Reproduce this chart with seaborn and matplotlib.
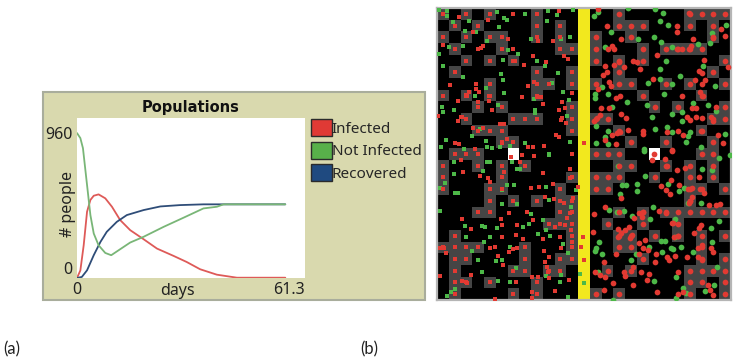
import numpy as np
import pandas as pd
import matplotlib
matplotlib.use("Agg")
import matplotlib.pyplot as plt
from matplotlib.colors import ListedColormap
from matplotlib.patches import Patch, Rectangle
import seaborn as sns

# courbes (jours, nb de personnes)
infected_days = [0, 0.9, 1.8, 2.7, 3.6, 4.5, 5.8, 7.6, 9.4, 11.6, 14.3, 17.9, 21.5, 26, 29.5, 33.1, 37.6, 43, 56]
infected_vals = [0, 50, 217, 439, 517, 545, 554, 528, 472, 384, 317, 257, 195, 146, 106, 58, 22, 2, 2]
healthy_days = [0, 0.9, 1.6, 2.2, 2.9, 3.6, 4.5, 5.8, 7.6, 9.2, 11.2, 14.3, 17.9, 23.3, 28.6, 34, 37.6, 39.4, 56]
healthy_vals = [960, 927, 860, 727, 572, 417, 295, 217, 166, 151, 184, 235, 273, 339, 399, 461, 472, 488, 488]
recovered_days = [0, 1.3, 2.7, 4.5, 6.3, 8, 10.7, 13.4, 17.9, 22.4, 27.7, 34, 56]
recovered_vals = [0, 7, 51, 151, 239, 306, 372, 417, 450, 474, 483, 488, 488]
series_names = ["Infected", "Not Infected", "Recovered"]

# carte : cases grises par ligne (25 x 25)
gray_cells = {
    0: [0, 2, 4, 8, 15, 21, 22, 23, 24], 1: [1, 3, 8, 10, 15, 16, 17, 21, 23],
    2: [0, 2, 4, 5, 8, 10, 13, 16, 23], 3: [1, 5, 10, 11, 13, 17, 19, 20, 21, 22],
    4: [2, 4, 6, 13, 15, 17, 24], 5: [1, 8, 11, 15, 23],
    6: [4, 8, 9, 11, 13, 15, 16, 19, 21, 24], 7: [0, 2, 4, 8, 17, 22],
    8: [3, 5, 11, 18, 20, 24], 9: [2, 6, 7, 8, 11, 13, 14, 23, 24],
    10: [3, 4, 5, 11, 15, 22], 11: [5, 6, 16, 19, 23],
    12: [1, 2, 3, 13, 14, 15, 22, 23], 13: [0, 3, 5, 7, 15, 16, 19, 21, 23],
    14: [0, 5, 11, 13, 14, 15, 18, 21, 23], 15: [0, 4, 5, 10, 13, 14, 21, 22, 24],
    16: [4, 6, 8, 10, 11, 21], 17: [3, 4, 10, 11, 15, 17, 19, 20, 21, 22, 23, 24],
    18: [9, 10, 11, 14, 17, 20], 19: [1, 11, 15, 16, 18, 20, 22, 24],
    20: [0, 1, 2, 3, 7, 11, 15, 16, 22], 21: [1, 2, 7, 10, 11, 17, 22, 24],
    22: [1, 6, 7, 9, 10, 14, 16, 21, 22, 23, 24], 23: [1, 2, 4, 8, 21, 22, 24],
    24: [1, 6, 8, 13, 15, 21, 24],
}
road_col = 12
white_cells = [(12, 6), (12, 18)]

# gens, position (px de l'image)
green_tl = [(28,30),(52,33),(52,47),(70,65),(118,63),(138,96),(106,94),(206,80),(202,36),(222,55),(232,60),(286,42),(354,33),(381,45),(430,30),(350,64),(421,110),(304,117),(392,118),(172,123),(56,141),(99,137),(27,161),(40,199),(233,149),(263,163),(220,181),(321,183),(345,197),(214,222),(219,240),(100,232),(385,220),(367,250),(168,265),(134,287),(222,278),(398,275),(417,299),(311,297),(35,322),(40,335),(71,329),(203,316),(315,330),(315,340),(411,349),(150,387),(127,408),(49,420),(33,442),(169,422),(172,440),(211,441),(241,438),(286,428),(103,447),(420,425),(357,462),(185,445)]
red_tl = [(88,51),(173,60),(250,42),(388,32),(128,97),(233,117),(325,122),(369,124),(39,135),(143,148),(152,145),(158,137),(250,147),(308,168),(403,167),(415,177),(349,187),(282,196),(255,183),(250,182),(59,256),(139,252),(138,268),(118,277),(147,275),(108,285),(112,288),(178,287),(178,303),(275,291),(295,257),(312,245),(320,290),(332,291),(339,312),(397,305),(405,323),(386,329),(425,278),(83,304),(143,307),(185,331),(25,347),(92,352),(97,350),(83,363),(392,360),(396,355),(408,368),(128,383),(160,385),(210,373),(222,371),(377,405),(388,410),(232,418),(75,428),(88,431),(215,428),(295,441),(308,442),(341,438),(135,447),(462,428)]
green_bl = [(71,35),(170,37),(180,37),(215,47),(245,35),(158,62),(260,56),(270,57),(73,73),(232,104),(253,104),(215,121),(348,111),(437,120),(75,128),(84,128),(358,151),(215,163),(262,163),(424,170),(30,184),(304,193),(105,228),(155,228),(165,231),(200,235),(279,232),(297,221),(340,211),(348,239),(325,252),(360,257),(109,260),(180,260),(163,277),(126,304),(240,290),(398,281),(415,310),(143,329),(199,332),(215,329),(257,355),(156,366),(347,377),(392,376),(203,392),(241,395),(391,395),(62,425),(75,418),(52,439),(414,440),(356,14),(30,115),(44,100),(451,371),(462,400)]
red_bl = [(243,20),(311,18),(427,13),(275,15),(92,30),(270,35),(100,67),(150,79),(223,65),(175,85),(180,95),(339,69),(419,58),(420,85),(302,114),(327,110),(370,102),(443,112),(345,140),(372,148),(430,143),(403,160),(421,188),(412,203),(290,185),(236,190),(95,206),(212,208),(216,225),(310,210),(260,226),(122,237),(375,232),(405,226),(422,241),(460,260),(259,255),(215,260),(279,266),(338,268),(389,260),(425,275),(30,293),(42,295),(47,310),(180,295),(195,290),(237,305),(250,297),(260,295),(341,304),(392,295),(454,291),(204,319),(219,345),(462,330),(345,335),(357,322),(350,352),(355,365),(358,385),(30,377),(122,374),(306,380),(323,380),(95,392),(112,400),(418,389),(258,395),(376,423),(307,425),(307,445),(196,447)]
green_tr = [(38,35),(27,47),(128,25),(209,28),(235,38),(224,63),(250,76),(77,96),(158,116),(208,112),(228,126),(60,140),(262,142),(338,132),(375,130),(381,100),(423,75),(244,182),(225,208),(285,228),(190,250),(225,237),(260,252),(353,198),(390,257),(52,262),(30,283),(30,293),(68,282),(238,283),(127,307),(185,316),(80,320),(324,310),(369,314),(393,332),(262,342),(292,337),(200,350),(292,362),(32,377),(245,382),(260,396),(209,388),(68,393),(316,395),(310,407),(421,402),(60,411),(33,428),(70,431),(302,426),(177,448),(348,442)]
red_tr = [(40,28),(67,77),(275,78),(275,95),(313,40),(408,86),(421,107),(107,118),(325,118),(384,113),(68,148),(80,137),(88,148),(217,165),(275,147),(290,147),(318,138),(312,148),(143,184),(155,185),(165,207),(60,198),(88,195),(103,185),(117,200),(67,215),(55,225),(357,180),(430,200),(342,212),(350,218),(203,237),(330,240),(360,240),(350,252),(73,245),(78,258),(38,268),(105,287),(92,295),(345,275),(290,287),(355,288),(47,323),(73,324),(320,323),(332,325),(393,320),(107,343),(122,353),(45,345),(35,355),(28,363),(305,350),(315,360),(332,350),(350,353),(378,350),(385,363),(130,390),(173,392),(173,403),(82,405),(97,400),(105,395),(247,397),(278,392),(293,406),(400,405),(93,432),(60,420),(262,450),(413,430),(348,393)]
green_br = [(98,48),(180,78),(157,102),(157,124),(110,105),(123,105),(250,103),(297,113),(283,123),(105,132),(347,160),(203,171),(72,181),(97,187),(117,183),(140,197),(195,207),(270,207),(378,234),(403,212),(308,160),(380,275),(43,277),(32,295),(30,302),(52,312),(192,291),(228,272),(240,272),(230,305),(257,293),(265,298),(288,291),(323,307),(152,312),(137,330),(395,352),(40,367),(273,380),(208,393),(387,405),(295,413),(360,423),(302,428),(272,445),(83,450),(178,2),(403,24),(435,14),(380,60),(352,57),(270,262)]
red_br = [(207,12),(200,30),(240,27),(245,48),(262,2),(300,53),(277,60),(342,80),(258,90),(228,108),(243,120),(256,132),(283,105),(310,118),(322,115),(345,118),(358,128),(107,143),(322,140),(315,152),(312,160),(373,165),(392,165),(405,163),(60,171),(223,183),(242,188),(163,190),(175,185),(147,205),(170,200),(28,193),(260,220),(265,218),(347,225),(342,235),(327,248),(23,245),(98,238),(108,250),(120,240),(133,232),(100,260),(140,255),(135,265),(180,270),(163,278),(267,260),(278,258),(173,295),(190,300),(213,312),(162,312),(92,312),(245,320),(252,330),(270,318),(305,320),(340,293),(350,285),(378,295),(385,305),(210,337),(58,336),(340,320),(350,330),(145,350),(118,367),(120,378),(168,365),(192,372),(187,390),(30,365),(45,375),(60,382),(85,398),(143,404),(278,365),(57,420),(215,425),(280,432),(295,427),(370,405),(375,420),(385,435)]

RED = "#E23A32"
GREEN = "#4DB848"
LINE_COLORS = {"Infected": "#DE5A58", "Not Infected": "#79B677", "Recovered": "#2F4D78"}
W, H = 737, 360


def to_cells(points, ox, oy):
    # crop x3 -> unités de cases de la carte
    pts = np.array(points, dtype=float)
    return (ox + pts[:, 0] / 3 - 437) / 11.76, (oy + pts[:, 1] / 3 - 8) / 11.68


def px_axes(x0, y0, x1, y1):
    return fig.add_axes([x0 / W, 1 - y1 / H, (x1 - x0) / W, (y1 - y0) / H])


sns.set_style("white")
plt.rcParams["font.family"] = ["Noto Sans", "DejaVu Sans"]

fig = plt.figure(figsize=(7.37, 3.6), dpi=100)

# (a) panneau
fig.add_artist(Rectangle((43 / W, 1 - 300 / H), 382 / W, 208 / H, transform=fig.transFigure,
                         facecolor="#D9D9AE", edgecolor="#A9AD9C", linewidth=1.5, zorder=-1))
ax = px_axes(77, 118, 305, 278)
df_lines = pd.concat([
    pd.DataFrame({"days": infected_days, "people": infected_vals, "kind": "Infected"}),
    pd.DataFrame({"days": recovered_days, "people": recovered_vals, "kind": "Recovered"}),
    pd.DataFrame({"days": healthy_days, "people": healthy_vals, "kind": "Not Infected"}),
])
sns.lineplot(data=df_lines, x="days", y="people", hue="kind", palette=LINE_COLORS, linewidth=1.3,
             estimator=None, sort=False, legend=False, ax=ax)
ax.set_xlim(0, 61.3)
ax.set_ylim(0, 1060)
ax.set_facecolor("white")
sns.despine(ax=ax, left=True, bottom=True)
ax.set_xticks([0, 61.3], ["0", "61.3"], fontsize=11.5, color="#222222")
ax.set_yticks([0, 960], ["0", "960"], fontsize=11.5, color="#222222")
ax.get_yticklabels()[0].set_va("bottom")
ax.get_xticklabels()[1].set_ha("right")
ax.tick_params(length=0, pad=3)
ax.set_xlabel("days", fontsize=11.5, labelpad=-11, x=0.44, color="#222222")
ax.set_ylabel("# people", fontsize=11.5, labelpad=-22, y=0.46, color="#222222")
ax.set_title("Populations", fontsize=10.5, fontweight="bold", family="DejaVu Sans", pad=4, color="#111111", x=0.5)

handles = [Patch(facecolor=c, edgecolor="#2B2B2B", linewidth=1)
           for c in ["#E03A35", "#58B04A", "#1F4A80"]]
fig.legend(handles, series_names, loc="upper left", bbox_to_anchor=(311 / W, 1 - 119 / H), frameon=False,
           fontsize=11, handlelength=1.35, handleheight=1.35, handletextpad=0.0, labelspacing=0.32,
           borderpad=0, borderaxespad=0)

fig.text(3 / W, 1 - 349 / H, "(a)", fontsize=12, va="center", family="Lato", color="#222222")
fig.text(360 / W, 1 - 349 / H, "(b)", fontsize=12, va="center", family="Lato", color="#222222")

# (b) carte
grid = np.zeros((25, 25), dtype=int)
for row, cols in gray_cells.items():
    grid[row, cols] = 1
grid[:, road_col] = 2
for row, col in white_cells:
    grid[row, col] = 3

ax_map = px_axes(437, 8, 731, 300)
sns.heatmap(grid, cmap=ListedColormap(["#000000", "#454545", "#F2E81E", "#FFFFFF"]), vmin=0, vmax=3,
            cbar=False, square=False, xticklabels=False, yticklabels=False, ax=ax_map)

center_rows, center_cols = np.nonzero(grid == 1)
left = center_cols < road_col
sq_x = [to_cells(green_tl, 430, 0)[0], to_cells(green_bl, 430, 150)[0]]
sq_y = [to_cells(green_tl, 430, 0)[1], to_cells(green_bl, 430, 150)[1]]
rd_x = [to_cells(red_tl, 430, 0)[0], to_cells(red_bl, 430, 150)[0], center_cols[left] + 0.5]
rd_y = [to_cells(red_tl, 430, 0)[1], to_cells(red_bl, 430, 150)[1], center_rows[left] + 0.5]
sns.scatterplot(x=np.concatenate(sq_x), y=np.concatenate(sq_y), color=GREEN, marker="s", s=12, linewidth=0,
                ax=ax_map, zorder=3)
sns.scatterplot(x=np.concatenate(rd_x), y=np.concatenate(rd_y), color=RED, marker="s", s=12, linewidth=0,
                ax=ax_map, zorder=3)

ci_x = [to_cells(green_tr, 585, 0)[0], to_cells(green_br, 585, 150)[0]]
ci_y = [to_cells(green_tr, 585, 0)[1], to_cells(green_br, 585, 150)[1]]
rc_x = [to_cells(red_tr, 585, 0)[0], to_cells(red_br, 585, 150)[0], center_cols[~left] + 0.5]
rc_y = [to_cells(red_tr, 585, 0)[1], to_cells(red_br, 585, 150)[1], center_rows[~left] + 0.5]
sns.scatterplot(x=np.concatenate(ci_x), y=np.concatenate(ci_y), color=GREEN, marker="o", s=17, linewidth=0,
                ax=ax_map, zorder=3)
sns.scatterplot(x=np.concatenate(rc_x), y=np.concatenate(rc_y), color=RED, marker="o", s=17, linewidth=0,
                ax=ax_map, zorder=3)
ax_map.set_xlim(0, 25)
ax_map.set_ylim(25, 0)
for side in ax_map.spines.values():
    side.set_visible(True)
    side.set_color("#B5B5B5")
    side.set_linewidth(1.6)

fig.savefig("out.png", dpi=100)
